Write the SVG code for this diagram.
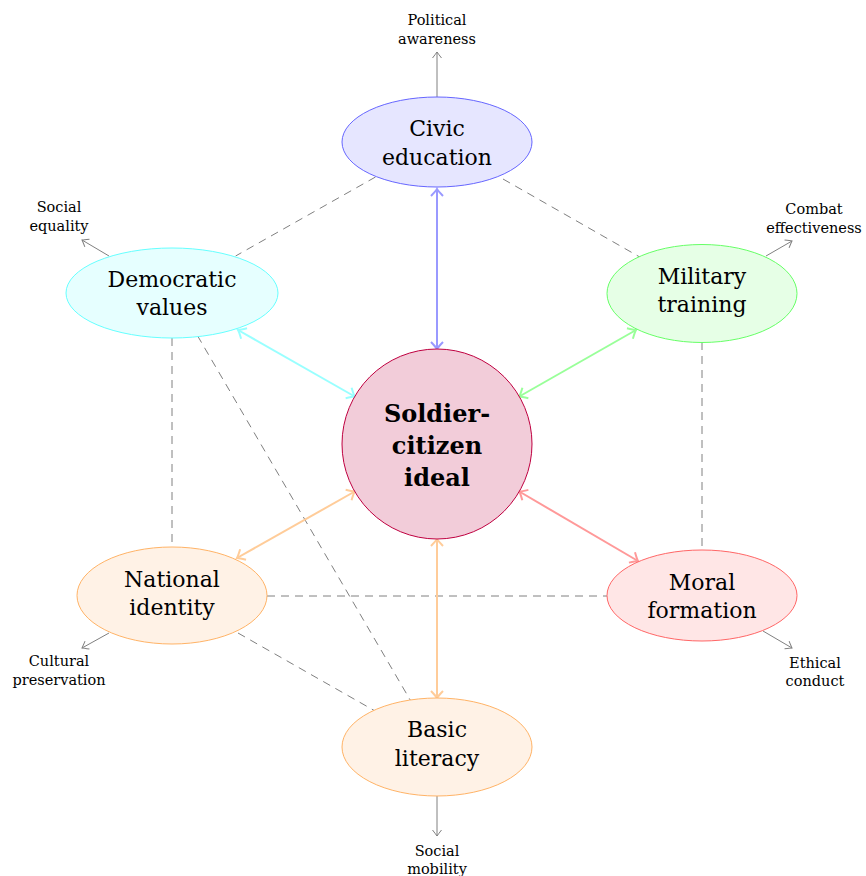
<svg xmlns="http://www.w3.org/2000/svg" width="866" height="876" viewBox="0 0 866 876">
<style>
text{font-family:"DejaVu Serif","Liberation Serif",serif;text-anchor:middle;fill:#000}
.n{font-size:22px}
.s{font-size:14.5px}
.c{font-size:24px;font-weight:bold;fill:#000}
.dash{stroke:#808080;stroke-width:1;stroke-dasharray:8 6;fill:none}
.out{stroke:#808080;stroke-width:1;fill:none;marker-end:url(#ag)}
.bi{stroke-width:2;fill:none}
</style>
<defs>
<marker id="ag" viewBox="-8 -6 10 12" refX="0" refY="0" markerWidth="10" markerHeight="12" markerUnits="userSpaceOnUse" orient="auto-start-reverse"><path d="M-6,-4.5 Q-1.5,-1 0,0 Q-1.5,1 -6,4.5" fill="none" stroke="#808080" stroke-width="1"/></marker>
<marker id="ab" viewBox="-9 -8 11 16" refX="0" refY="0" markerWidth="11" markerHeight="16" markerUnits="userSpaceOnUse" orient="auto-start-reverse"><path d="M-7,-6 Q-2,-1.2 0,0 Q-2,1.2 -7,6" fill="none" stroke="#9999ff" stroke-width="2"/></marker>
<marker id="agr" viewBox="-9 -8 11 16" refX="0" refY="0" markerWidth="11" markerHeight="16" markerUnits="userSpaceOnUse" orient="auto-start-reverse"><path d="M-7,-6 Q-2,-1.2 0,0 Q-2,1.2 -7,6" fill="none" stroke="#99ff99" stroke-width="2"/></marker>
<marker id="ac" viewBox="-9 -8 11 16" refX="0" refY="0" markerWidth="11" markerHeight="16" markerUnits="userSpaceOnUse" orient="auto-start-reverse"><path d="M-7,-6 Q-2,-1.2 0,0 Q-2,1.2 -7,6" fill="none" stroke="#99ffff" stroke-width="2"/></marker>
<marker id="ao" viewBox="-9 -8 11 16" refX="0" refY="0" markerWidth="11" markerHeight="16" markerUnits="userSpaceOnUse" orient="auto-start-reverse"><path d="M-7,-6 Q-2,-1.2 0,0 Q-2,1.2 -7,6" fill="none" stroke="#ffcc99" stroke-width="2"/></marker>
<marker id="ar" viewBox="-9 -8 11 16" refX="0" refY="0" markerWidth="11" markerHeight="16" markerUnits="userSpaceOnUse" orient="auto-start-reverse"><path d="M-7,-6 Q-2,-1.2 0,0 Q-2,1.2 -7,6" fill="none" stroke="#ff9999" stroke-width="2"/></marker>
</defs>
<rect width="866" height="876" fill="#fff"/>
<g id="connectors">
<line class="dash" x1="375.5" y1="177" x2="235.6" y2="256"/>
<line class="dash" x1="503" y1="179" x2="639.7" y2="257"/>
<line class="dash" x1="702" y1="342" x2="702" y2="550"/>
<line class="dash" x1="172" y1="338" x2="172" y2="547"/>
<line class="dash" x1="267" y1="596" x2="607" y2="596"/>
<line class="dash" x1="238" y1="633" x2="374" y2="710.4"/>
<line class="dash" x1="197.5" y1="335.7" x2="410.2" y2="700"/>
<line class="out" x1="437" y1="97" x2="437" y2="52"/>
<line class="out" x1="109" y1="256" x2="82" y2="240"/>
<line class="out" x1="766" y1="256" x2="792" y2="241"/>
<line class="out" x1="109" y1="633" x2="82" y2="648"/>
<line class="out" x1="763" y1="631" x2="792" y2="648"/>
<line class="out" x1="437" y1="796" x2="437" y2="836"/>
<line class="bi" stroke="#9999ff" x1="437" y1="189" x2="437" y2="349" marker-start="url(#ab)" marker-end="url(#ab)"/>
<line class="bi" stroke="#99ff99" x1="519.3" y1="396.5" x2="636" y2="330" marker-start="url(#agr)" marker-end="url(#agr)"/>
<line class="bi" stroke="#99ffff" x1="354.7" y1="396.5" x2="238" y2="330" marker-start="url(#ac)" marker-end="url(#ac)"/>
<line class="bi" stroke="#ffcc99" x1="354.7" y1="491.5" x2="237" y2="558" marker-start="url(#ao)" marker-end="url(#ao)"/>
<line class="bi" stroke="#ff9999" x1="519.3" y1="491.5" x2="638" y2="561" marker-start="url(#ar)" marker-end="url(#ar)"/>
<line class="bi" stroke="#ffcc99" x1="437" y1="539" x2="437" y2="698" marker-start="url(#ao)" marker-end="url(#ao)"/>
</g>
<g id="center">
<circle cx="437" cy="444" r="95" fill="#f2ccd9" stroke="#bf0040" stroke-width="1"/>
<text class="c" x="437" y="422">Soldier-</text>
<text class="c" x="437" y="454">citizen</text>
<text class="c" x="437" y="486">ideal</text>
</g>
<g id="civic">
<ellipse cx="437" cy="142" rx="95" ry="45" fill="#e6e6ff" stroke="#6666ff"/>
<text class="n" x="437" y="136">Civic</text>
<text class="n" x="437" y="165">education</text>
</g>
<g id="military">
<ellipse cx="702" cy="293.5" rx="95" ry="49" fill="#e6ffe6" stroke="#66ff66"/>
<text class="n" x="702" y="284">Military</text>
<text class="n" x="702" y="312">training</text>
</g>
<g id="moral">
<ellipse cx="702" cy="595.5" rx="95" ry="45.5" fill="#ffe6e6" stroke="#ff6666"/>
<text class="n" x="702" y="590">Moral</text>
<text class="n" x="702" y="618">formation</text>
</g>
<g id="basic">
<ellipse cx="437" cy="747" rx="95" ry="49" fill="#fff2e6" stroke="#ffb366"/>
<text class="n" x="437" y="737">Basic</text>
<text class="n" x="437" y="766">literacy</text>
</g>
<g id="national">
<ellipse cx="172" cy="595.5" rx="95" ry="48.5" fill="#fff2e6" stroke="#ffb366"/>
<text class="n" x="172" y="587">National</text>
<text class="n" x="172" y="615">identity</text>
</g>
<g id="democratic">
<ellipse cx="172" cy="293" rx="106" ry="45" fill="#e6ffff" stroke="#66ffff"/>
<text class="n" x="172" y="287">Democratic</text>
<text class="n" x="172" y="315">values</text>
</g>
<g id="labels">
<text class="s" x="437" y="25">Political</text>
<text class="s" x="437" y="44">awareness</text>
<text class="s" x="59" y="212">Social</text>
<text class="s" x="59" y="231">equality</text>
<text class="s" x="814" y="214">Combat</text>
<text class="s" x="814" y="233">effectiveness</text>
<text class="s" x="59" y="666">Cultural</text>
<text class="s" x="59" y="685">preservation</text>
<text class="s" x="815" y="668">Ethical</text>
<text class="s" x="815" y="686">conduct</text>
<text class="s" x="437" y="856">Social</text>
<text class="s" x="437" y="874">mobility</text>
</g>
</svg>
